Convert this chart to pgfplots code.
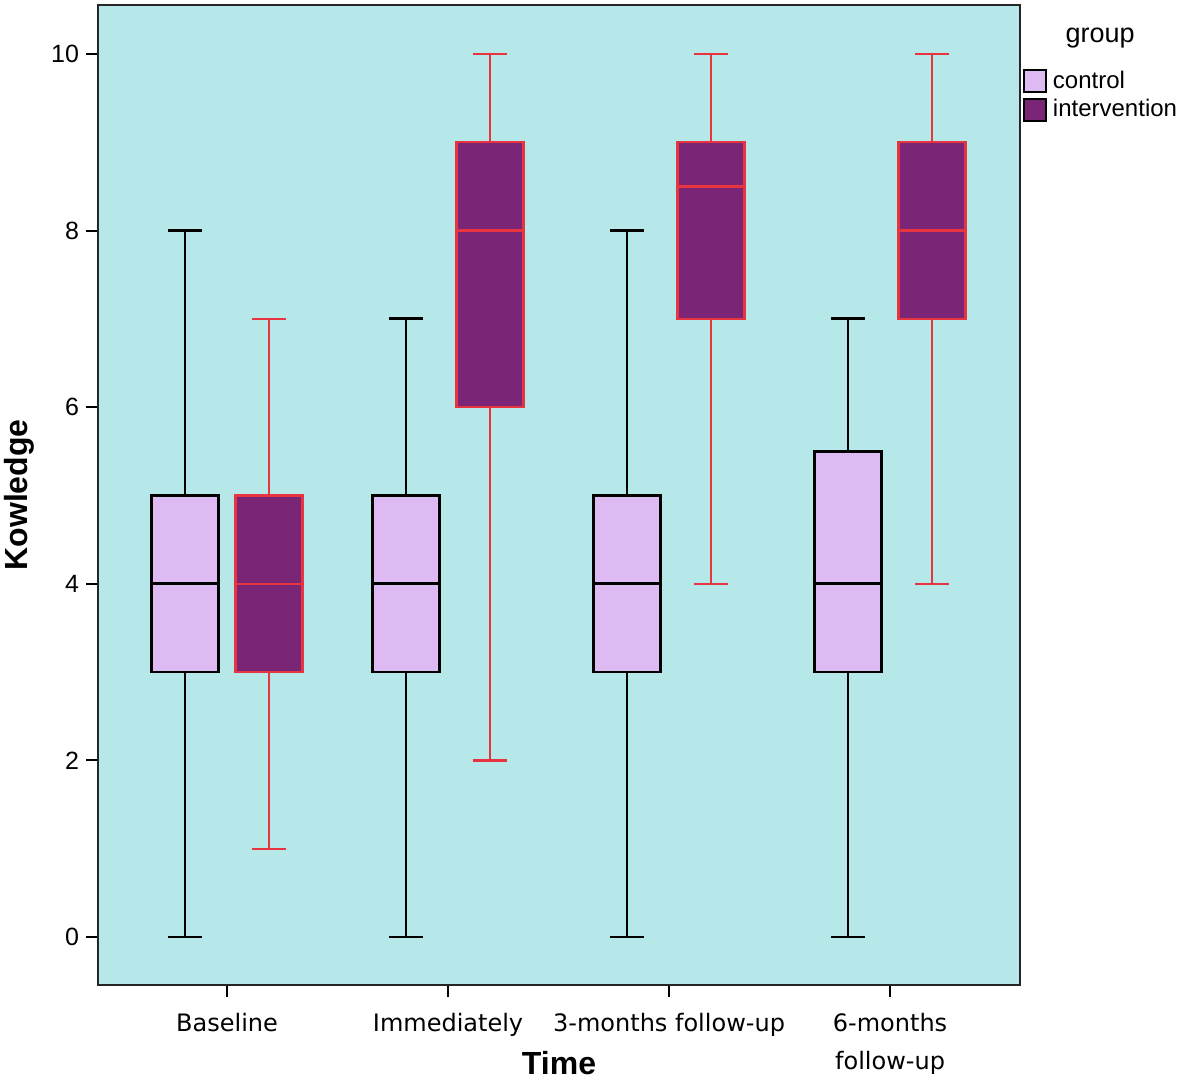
\documentclass[border=0pt]{standalone}
\usepackage{pgfplots}
\pgfplotsset{compat=1.18}
\usepgfplotslibrary{statistics}
\usepackage{fontspec}
\setmainfont{Liberation Sans}
\newfontfamily\tickfont{DejaVu Sans}

\definecolor{bgcol}{RGB}{182,231,233}
\definecolor{ctrl}{RGB}{222,186,242}
\definecolor{intv}{RGB}{123,37,118}
\definecolor{redline}{RGB}{232,52,62}

\pgfplotsset{
  ctrlbox/.style={fill=ctrl, draw=black, line width=1.4pt, solid},
  intvbox/.style={fill=intv, draw=redline, line width=1.15pt, solid},
}

\begin{document}
\begin{tikzpicture}
\begin{axis}[
    scale only axis,
    width=461pt,
    height=490pt,
    boxplot/draw direction=y,
    xmin=-0.584, xmax=3.588,
    ymin=-0.544, ymax=10.555,
    axis background/.style={fill=bgcol},
    axis line style={line width=1pt, black!85},
    xtick={0,1,2,3},
    xticklabels={Baseline, Immediately, 3-months follow-up, {6-months\\follow-up}},
    xticklabel style={font=\tickfont\fontsize{12}{19}\selectfont, align=center, yshift=-4.5pt},
    ytick={0,2,4,6,8,10},
    yticklabel style={font=\fontsize{12.5}{14}\selectfont},
    /pgf/number format/assume math mode=true,
    tick align=outside,
    major tick length=6pt,
    tick style={black, line width=1pt},
    xtick pos=bottom, ytick pos=left,
    xlabel={\textbf{Time}},
    ylabel={\textbf{Kowledge}},
    xlabel style={font=\fontsize{16}{18}\selectfont, yshift=16pt, inner sep=1pt},
    ylabel style={font=\fontsize{16}{18}\selectfont, yshift=1.5pt},
    clip=false,
    legend image code/.code={\draw[#1] (0pt,-5.5pt) rectangle (11pt,5.5pt);},
    legend style={at={(rel axis cs:1.0006,0.941)}, anchor=north west,
        draw=none, fill=none, font=\fontsize{12}{14}\selectfont,
        row sep=0pt, inner xsep=1pt, cells={anchor=west},
        /tikz/every odd column/.append style={column sep=1pt}},
]
\addlegendimage{fill=ctrl, draw=black, line width=1pt}
\addlegendentry{control}
\addlegendimage{fill=intv, draw=black, line width=1pt}
\addlegendentry{intervention}

% Baseline
\addplot[ctrlbox, forget plot, boxplot prepared={draw position=-0.19,
    lower whisker=0, lower quartile=3, median=4, upper quartile=5, upper whisker=8,
    box extend=0.303, whisker extend=0.154}] coordinates {};
\addplot[intvbox, forget plot, boxplot prepared={draw position=0.19,
    lower whisker=1, lower quartile=3, median=4, upper quartile=5, upper whisker=7,
    box extend=0.303, whisker extend=0.154}] coordinates {};
% Immediately
\addplot[ctrlbox, forget plot, boxplot prepared={draw position=0.81,
    lower whisker=0, lower quartile=3, median=4, upper quartile=5, upper whisker=7,
    box extend=0.303, whisker extend=0.154}] coordinates {};
\addplot[intvbox, forget plot, boxplot prepared={draw position=1.19,
    lower whisker=2, lower quartile=6, median=8, upper quartile=9, upper whisker=10,
    box extend=0.303, whisker extend=0.154}] coordinates {};
% 3-months follow-up
\addplot[ctrlbox, forget plot, boxplot prepared={draw position=1.81,
    lower whisker=0, lower quartile=3, median=4, upper quartile=5, upper whisker=8,
    box extend=0.303, whisker extend=0.154}] coordinates {};
\addplot[intvbox, forget plot, boxplot prepared={draw position=2.19,
    lower whisker=4, lower quartile=7, median=8.5, upper quartile=9, upper whisker=10,
    box extend=0.303, whisker extend=0.154}] coordinates {};
% 6-months follow-up
\addplot[ctrlbox, forget plot, boxplot prepared={draw position=2.81,
    lower whisker=0, lower quartile=3, median=4, upper quartile=5.5, upper whisker=7,
    box extend=0.303, whisker extend=0.154}] coordinates {};
\addplot[intvbox, forget plot, boxplot prepared={draw position=3.19,
    lower whisker=4, lower quartile=7, median=8, upper quartile=9, upper whisker=10,
    box extend=0.303, whisker extend=0.154}] coordinates {};

\node[font=\fontsize{13.5}{15}\selectfont] at (rel axis cs:1.087,0.966) {group};
\coordinate (bbsw) at (rel axis cs:-0.1063,-0.102);
\coordinate (bbne) at (rel axis cs:1.1746,1.0051);
\end{axis}
\pgfresetboundingbox
\path (bbsw) rectangle (bbne);
\end{tikzpicture}
\end{document}
